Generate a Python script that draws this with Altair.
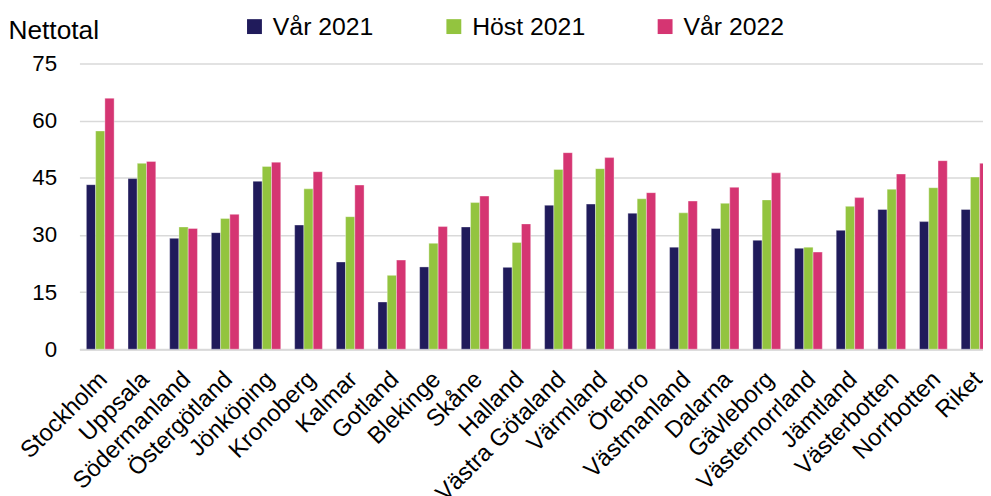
import altair as alt
import pandas as pd

regions = ["Stockholm", "Uppsala", "Södermanland", "Östergötland", "Jönköping",
           "Kronoberg", "Kalmar", "Gotland", "Blekinge", "Skåne", "Halland",
           "Västra Götaland", "Värmland", "Örebro", "Västmanland", "Dalarna",
           "Gävleborg", "Västernorrland", "Jämtland", "Västerbotten",
           "Norrbotten", "Riket"]
series = ["Vår 2021", "Höst 2021", "Vår 2022"]
var2021 = [43.2, 44.8, 29.1, 30.6, 44.1, 32.6, 22.9, 12.4, 21.6, 32.1, 21.5,
           37.8, 38.1, 35.7, 26.8, 31.7, 28.6, 26.5, 31.2, 36.7, 33.5, 36.7]
host2021 = [57.3, 48.8, 32.1, 34.3, 48.0, 42.1, 34.8, 19.4, 27.8, 38.5, 28.0,
            47.2, 47.4, 39.5, 35.8, 38.3, 39.2, 26.8, 37.5, 42.0, 42.4, 45.2]
var2022 = [65.9, 49.3, 31.7, 35.4, 49.1, 46.6, 43.1, 23.4, 32.2, 40.2, 32.9,
           51.6, 50.3, 41.1, 38.9, 42.5, 46.3, 25.5, 39.8, 46.0, 49.5, 48.8]
colors = ["#201b5b", "#93c43f", "#d53572"]
y_ticks = [0, 15, 30, 45, 60, 75]

rows = []
for name, vals in zip(series, [var2021, host2021, var2022]):
    for r, v in zip(regions, vals):
        rows.append({"Region": r, "Serie": name, "Värde": v})
df = pd.DataFrame(rows)

FONT = "Liberation Sans"

chart = alt.Chart(df).mark_bar(
    stroke="#ffffff", strokeWidth=0.8, strokeOpacity=0.45
).encode(
    x=alt.X("Region:N", sort=regions,
            scale=alt.Scale(range=[0, 924], paddingInner=1/3, paddingOuter=1/6),
            axis=alt.Axis(title=None, labelAngle=-45, labelFontSize=24,
                          labelFont=FONT, labelColor="#000000", ticks=False,
                          labelPadding=18, labelOffset=-5, domainColor="#d9d9d9",
                          domainWidth=2, labelLimit=400)),
    xOffset=alt.XOffset("Serie:N", sort=series,
                        scale=alt.Scale(paddingInner=0, paddingOuter=0)),
    y=alt.Y("Värde:Q",
            scale=alt.Scale(domain=[0, 75], nice=False),
            axis=alt.Axis(values=y_ticks, title="Nettotal", titleAngle=0,
                          titleAlign="left", titleBaseline="alphabetic",
                          titleX=-72, titleY=-25, titleFontSize=26.5,
                          titleFont=FONT, titleFontWeight="normal",
                          titleColor="#000000", labelFontSize=22.5,
                          labelFont=FONT, labelColor="#000000", ticks=False,
                          labelPadding=23, domain=False, gridColor="#d9d9d9",
                          gridWidth=1.5)),
    color=alt.Color("Serie:N", sort=series,
                    scale=alt.Scale(domain=series, range=colors),
                    legend=alt.Legend(title=None, orient="none", legendX=164,
                                      legendY=-50, direction="horizontal",
                                      columns=3, columnPadding=68,
                                      symbolType="square", symbolSize=225,
                                      symbolStrokeWidth=0, labelFontSize=25,
                                      labelFont=FONT, labelColor="#000000",
                                      labelOffset=6, labelLimit=300)),
).properties(
    width=911,
    height=288,
    autosize=alt.AutoSizeParams(type="none"),
    padding={"left": 72, "top": 54, "right": 0, "bottom": 146},
).configure_view(stroke=None)

chart.save("out.html", embed_options={"renderer": "svg", "actions": False})
